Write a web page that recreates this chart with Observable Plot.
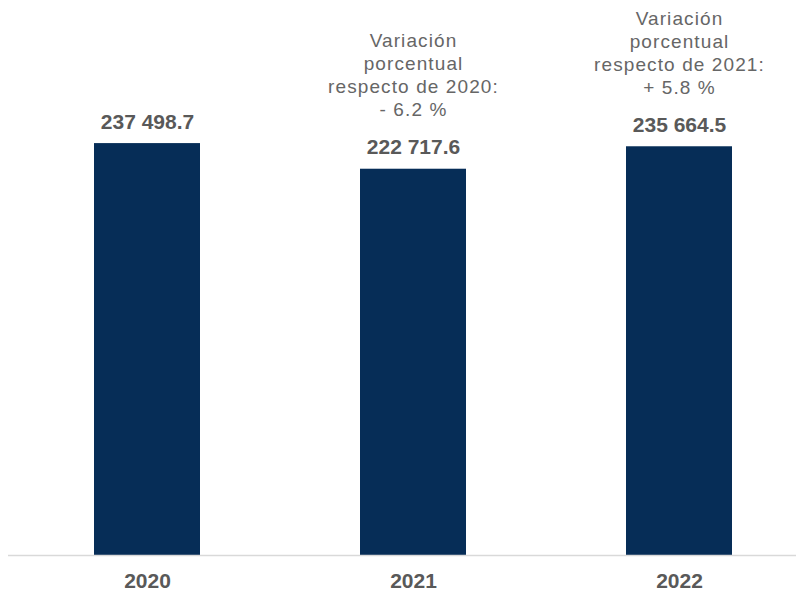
<!DOCTYPE html>
<html>
<head>
<meta charset="utf-8">
<script src="https://cdn.jsdelivr.net/npm/d3@7"></script>
<script src="https://cdn.jsdelivr.net/npm/@observablehq/plot@0.6"></script>
<style>
  html, body { margin: 0; padding: 0; background: #fff; }
  #chart { width: 796px; height: 592px; }
</style>
</head>
<body>
<div id="chart"></div>
<script>
const years = ["2020", "2021", "2022"];
const values = [237498.7, 222717.6, 235664.5];
const valueLabels = ["237 498.7", "222 717.6", "235 664.5"];
const notes = [
  "",
  "Variación\nporcentual\nrespecto de 2020:\n- 6.2 %",
  "Variación\nporcentual\nrespecto de 2021:\n+ 5.8 %"
];

const data = years.map((y, i) => ({year: y, value: values[i], label: valueLabels[i], note: notes[i]}));

const chart = Plot.plot({
  width: 796,
  height: 592,
  marginLeft: 8,
  marginRight: 0,
  marginTop: 0,
  marginBottom: 37,
  style: {fontFamily: "'Liberation Sans', Arial, sans-serif", background: "#fff"},
  x: {domain: years, range: [93, 733], paddingInner: 0.6, paddingOuter: 0, axis: null},
  y: {domain: [0, 320000], axis: null},
  marks: [
    Plot.barY(data, {x: "year", y: "value", fill: "#062d57"}),
    Plot.ruleY([0], {stroke: "#d9d9d9", strokeWidth: 1.5}),
    Plot.text(data, {x: "year", y: "value", text: "label", lineAnchor: "bottom", dy: -15,
      fontSize: 21, fontWeight: "bold", fill: "#595959"}),
    Plot.text(data, {x: "year", y: "value", text: "note", lineAnchor: "bottom", dy: -53,
      fontSize: 19, lineHeight: 1.21, fill: "#666666", ariaDescription: "annot"}),
    Plot.axisX({domain: years, tickSize: 0, tickPadding: 18, fontSize: 21, fontWeight: "bold",
      color: "#595959", label: null})
  ]
});
d3.select(chart).selectAll("g[aria-description=annot]").attr("letter-spacing", "1.1px");
document.getElementById("chart").appendChild(chart);
</script>
</body>
</html>
